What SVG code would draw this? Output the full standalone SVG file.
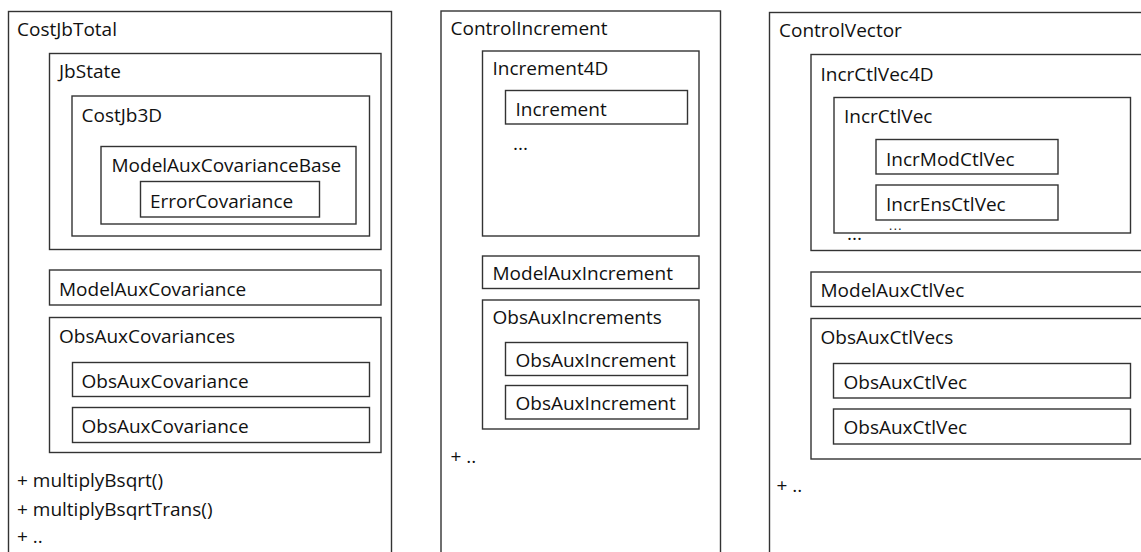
<svg xmlns="http://www.w3.org/2000/svg" width="1141" height="552" viewBox="0 0 1141 552">
<style>
rect{fill:none;stroke:#333;stroke-width:1.4}
text{font-family:"Open Sans","Noto Sans",sans-serif;font-size:19px;fill:#111}
.dots{font-size:12px;letter-spacing:1.5px}
</style>
<rect x="0" y="0" width="1141" height="552" style="fill:#fff;stroke:none"/>
<g id="costjbtotal">
<rect x="8.5" y="11.5" width="383" height="560"/>
<text x="17" y="36">CostJbTotal</text>
<g id="jbstate">
<rect x="49.5" y="53.5" width="331.5" height="196"/>
<text x="59" y="78">JbState</text>
<g id="costjb3d">
<rect x="72" y="96" width="297.5" height="140"/>
<text x="81.5" y="122">CostJb3D</text>
<g id="modelauxcovbase">
<rect x="101" y="146.5" width="255" height="77.5"/>
<text x="111.5" y="172">ModelAuxCovarianceBase</text>
<g id="errorcov">
<rect x="140.5" y="181.5" width="179" height="35.5"/>
<text x="150" y="208">ErrorCovariance</text>
</g>
</g>
</g>
</g>
<g id="modelauxcov">
<rect x="49.5" y="270" width="331.5" height="35"/>
<text x="59" y="296">ModelAuxCovariance</text>
</g>
<g id="obsauxcovs">
<rect x="49.5" y="317.5" width="331.5" height="135"/>
<text x="59" y="342.5">ObsAuxCovariances</text>
<g id="obsauxcov1">
<rect x="72.5" y="362.5" width="297" height="34"/>
<text x="81.5" y="388">ObsAuxCovariance</text>
</g>
<g id="obsauxcov2">
<rect x="72.5" y="407.5" width="297" height="35"/>
<text x="81.5" y="433">ObsAuxCovariance</text>
</g>
</g>
<text x="17" y="487">+ multiplyBsqrt()</text>
<text x="17" y="516">+ multiplyBsqrtTrans()</text>
<text x="17" y="543">+ ..</text>
</g>
<g id="controlincrement">
<rect x="441" y="11" width="279.5" height="560"/>
<text x="450.5" y="35">ControlIncrement</text>
<g id="increment4d">
<rect x="482.5" y="51" width="216.5" height="185"/>
<text x="492.5" y="75">Increment4D</text>
<g id="increment">
<rect x="505.5" y="90.5" width="182" height="33.5"/>
<text x="515.5" y="115.5">Increment</text>
</g>
<text x="513" y="150">...</text>
</g>
<g id="modelauxincrement">
<rect x="482.5" y="256" width="216.5" height="32.5"/>
<text x="492.5" y="280">ModelAuxIncrement</text>
</g>
<g id="obsauxincrements">
<rect x="482.5" y="300" width="216.5" height="129"/>
<text x="492.5" y="324">ObsAuxIncrements</text>
<g id="obsauxincrement1">
<rect x="505.5" y="342.5" width="182" height="33"/>
<text x="515.5" y="366.5">ObsAuxIncrement</text>
</g>
<g id="obsauxincrement2">
<rect x="505.5" y="385.5" width="182" height="33.5"/>
<text x="515.5" y="410">ObsAuxIncrement</text>
</g>
</g>
<text x="450.5" y="463">+ ..</text>
</g>
<g id="controlvector">
<rect x="769.5" y="12.5" width="400" height="560"/>
<text x="779" y="36.5">ControlVector</text>
<g id="incrctlvec4d">
<rect x="811" y="54.5" width="360" height="196"/>
<text x="820.5" y="81">IncrCtlVec4D</text>
<g id="incrctlvec">
<rect x="834" y="97.5" width="296.5" height="135.5"/>
<text x="844" y="123">IncrCtlVec</text>
<g id="incrmodctlvec">
<rect x="876" y="139.5" width="182" height="34.5"/>
<text x="886" y="165.5">IncrModCtlVec</text>
</g>
<g id="increnstlvec">
<rect x="876" y="185" width="182" height="35"/>
<text x="886" y="210.5">IncrEnsCtlVec</text>
</g>
<text class="dots" x="889" y="229.5">...</text>
</g>
<text x="847" y="240">...</text>
</g>
<g id="modelauxctlvec">
<rect x="811" y="272" width="360" height="34.5"/>
<text x="820.5" y="296.5">ModelAuxCtlVec</text>
</g>
<g id="obsauxctlvecs">
<rect x="811" y="318.5" width="360" height="140.5"/>
<text x="820.5" y="344">ObsAuxCtlVecs</text>
<g id="obsauxctlvec1">
<rect x="833.5" y="363.5" width="297" height="34.5"/>
<text x="843.5" y="389">ObsAuxCtlVec</text>
</g>
<g id="obsauxctlvec2">
<rect x="833.5" y="409" width="297" height="35"/>
<text x="843.5" y="434">ObsAuxCtlVec</text>
</g>
</g>
<text x="776.5" y="491.5">+ ..</text>
</g>
<g id="connectors"></g>
</svg>
